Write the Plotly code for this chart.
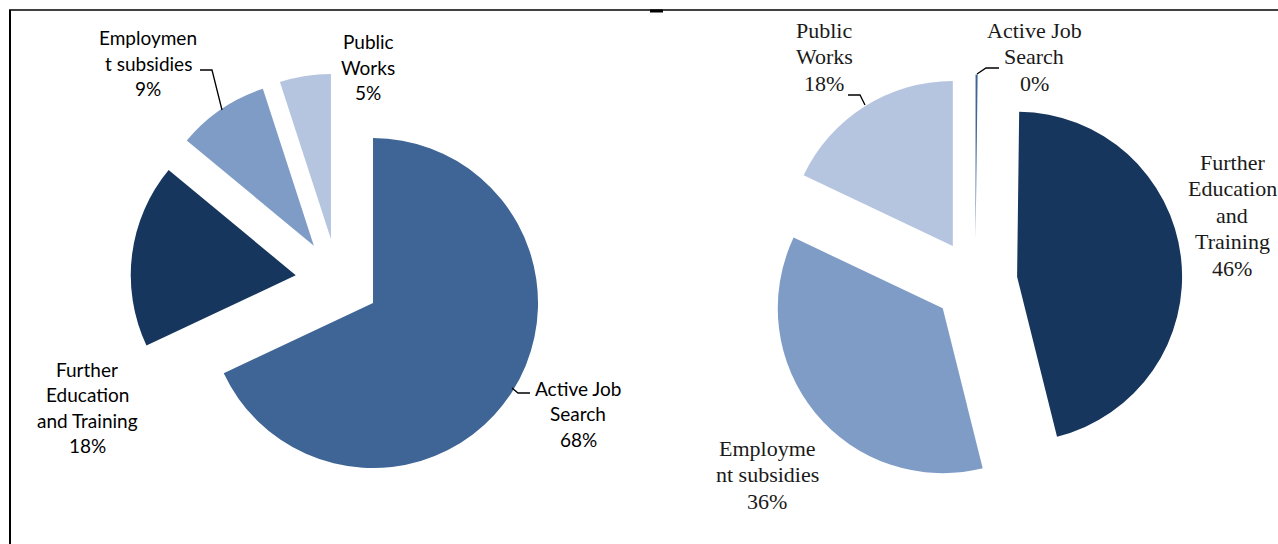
import plotly.graph_objects as go

W, H = 1278, 544

# Programme categories, in drawing order (clockwise from 12 o'clock)
categories = ["Active Job Search", "Further Education and Training",
              "Employment subsidies", "Public Works"]
colors = ["#3E6595", "#17365D", "#7F9CC7", "#B5C4DF"]

# Shares of participants (left) and of spending (right)
left_values = [68, 18, 9, 5]
right_values = [0.2, 46, 36, 18]

# Wrapped label lines as printed next to each slice
left_label_lines = [["Active Job", "Search"],
                    ["Further", "Education", "and Training"],
                    ["Employmen", "t subsidies"],
                    ["Public", "Works"]]
right_label_lines = [["Active Job", "Search"],
                     ["Further", "Education", "and", "Training"],
                     ["Employme", "nt subsidies"],
                     ["Public", "Works"]]

# Label anchor (x centre, y of first line) in pixels, and line step
left_label_pos = [(578, 388), (87, 369), (148, 38), (368, 42)]
right_label_pos = [(1034, 30), (1232, 162), (767, 448), (824, 30)]
left_step, right_step = 25.5, 26.5

# Leader lines in pixels
left_leaders = [[(512, 388), (518, 393), (530, 393)],
                [(200, 70), (212, 70), (222, 110)]]
right_leaders = [[(999, 68), (986, 68), (977, 74)],
                 [(848, 95), (860, 95), (865, 105)]]

PULL = 0.255
RADIUS = 165
left_center = (337.5, 280.5)
right_center = (975.3, 281.5)


def px(x):
    return x / W


def py(y):
    return 1 - y / H


def domain(center):
    half = RADIUS * (1 + PULL)
    cx, cy = center
    return dict(x=[px(cx - half), px(cx + half)],
                y=[py(cy + half), py(cy - half)])


def pie(values, center):
    return go.Pie(
        labels=categories, values=values, sort=False,
        direction="clockwise", rotation=0,
        pull=[PULL] * len(values),
        marker=dict(colors=colors, line=dict(width=0)),
        textinfo="none", hoverinfo="label+percent",
        showlegend=False, domain=domain(center),
    )


fig = go.Figure([pie(left_values, left_center), pie(right_values, right_center)])

annotations = []


def add_labels(values, lines, positions, step, font):
    total = sum(values)
    for v, ls, (x0, y0) in zip(values, lines, positions):
        text_lines = ls + [f"{round(v / total * 100):.0f}%"]
        for i, t in enumerate(text_lines):
            annotations.append(dict(
                x=px(x0), y=py(y0 + i * step), xref="paper", yref="paper",
                text=t, showarrow=False, xanchor="center", yanchor="middle",
                font=font))


add_labels(left_values, left_label_lines, left_label_pos, left_step,
           dict(family="Lato", size=19, color="#000000"))
add_labels(right_values, right_label_lines, right_label_pos, right_step,
           dict(family="Liberation Serif", size=22, color="#1a1a1a"))

shapes = []
for pts in left_leaders + right_leaders:
    path = "M " + " L ".join(f"{px(x):.5f},{py(y):.5f}" for x, y in pts)
    shapes.append(dict(type="path", path=path, xref="paper", yref="paper",
                       line=dict(color="#000000", width=1.3)))

# Frame lines around the panel
shapes += [
    dict(type="line", xref="paper", yref="paper", x0=px(9), x1=px(1278),
         y0=py(10), y1=py(10), line=dict(color="#000000", width=1.5)),
    dict(type="line", xref="paper", yref="paper", x0=px(10), x1=px(10),
         y0=py(10), y1=py(544), line=dict(color="#000000", width=2)),
    dict(type="line", xref="paper", yref="paper", x0=px(650), x1=px(663),
         y0=py(11), y1=py(11), line=dict(color="#000000", width=3)),
]

fig.update_layout(
    width=W, height=H, margin=dict(l=0, r=0, t=0, b=0),
    paper_bgcolor="#FFFFFF", plot_bgcolor="#FFFFFF",
    annotations=annotations, shapes=shapes,
)

fig.write_html("out.html")
